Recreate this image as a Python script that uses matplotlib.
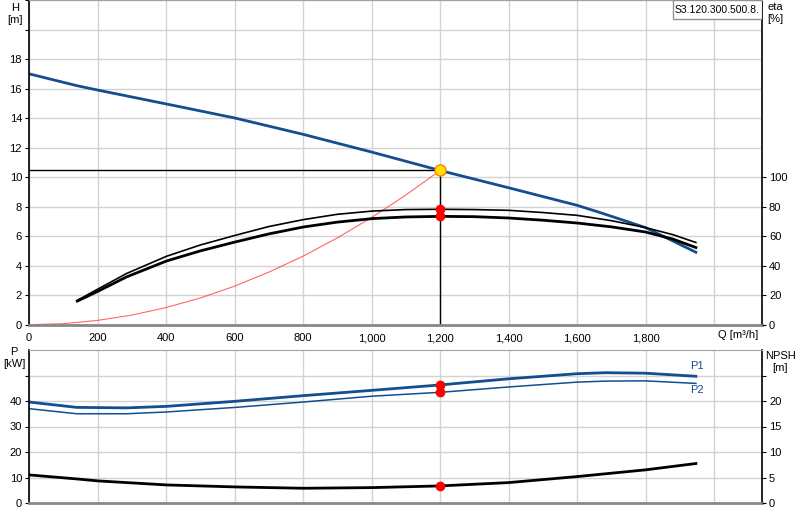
import matplotlib
matplotlib.use('Agg')
import matplotlib.pyplot as plt
import matplotlib.patches as patches
import numpy as np

plt.rcParams['font.family'] = ['Liberation Sans', 'DejaVu Sans']
plt.rcParams['font.size'] = 8

# pump head curve H [m] over Q [m3/h]
qH = [0, 139, 200, 400, 600, 800, 1000, 1200, 1400, 1600, 1667, 1800, 1947]
hH = [17.0, 16.2, 15.9, 14.96, 14.01, 12.9, 11.7, 10.45, 9.28, 8.09, 7.6, 6.58, 4.91]

# efficiency curves eta [%]
qEta = [141, 200, 285, 402, 500, 603, 700, 801, 900, 1003, 1100, 1200, 1300, 1400,
        1500, 1600, 1700, 1800, 1880, 1947]
eta1 = [16.5, 24.0, 34.7, 46.4, 54.0, 60.6, 66.5, 71.2, 74.8, 77.0, 78.0, 78.2, 78.0, 77.5,
        76.0, 74.1, 70.5, 65.8, 61.0, 55.7]
eta2 = [16.0, 22.5, 32.4, 43.2, 50.0, 56.1, 61.5, 66.2, 69.5, 71.9, 73.0, 73.4, 73.2, 72.3,
        70.8, 68.9, 66.3, 62.8, 58.0, 52.3]

# system curve
qSys = [0, 100, 200, 300, 400, 500, 600, 700, 800, 900, 1000, 1100, 1200]
hSys = [0, 0.07, 0.29, 0.65, 1.16, 1.81, 2.61, 3.56, 4.64, 5.88, 7.26, 8.78, 10.45]

# power P1, P2 [kW]
qP = [0, 139, 285, 402, 603, 801, 1003, 1200, 1400, 1600, 1683, 1800, 1947]
p1 = [39.6, 37.5, 37.3, 37.9, 39.9, 42.1, 44.2, 46.3, 48.7, 50.7, 51.1, 50.9, 49.7]
p2 = [37.0, 35.0, 35.0, 35.7, 37.5, 39.6, 41.9, 43.4, 45.5, 47.4, 47.8, 47.9, 46.9]

# NPSH [m]
qN = [0, 139, 202, 402, 603, 801, 1003, 1200, 1400, 1600, 1800, 1947]
npsh = [5.51, 4.72, 4.33, 3.54, 3.15, 2.89, 3.02, 3.35, 4.0, 5.18, 6.5, 7.74]

qDuty = 1200
hDuty = 10.45
eta1Duty = 78.2
eta2Duty = 73.4
p1Duty = 46.3
p2Duty = 43.4
npshDuty = 3.35

qLabels = ['0', '200', '400', '600', '800', '1,000', '1,200', '1,400', '1,600', '1,800']

blue = '#144e8c'
gridc = '#d3d3d3'

W, Hpx = 800., 520.
fig = plt.figure(figsize=(8, 5.2), dpi=100)

def styleAx(ax):
    ax.set_xlim(0, 2140)
    ax.set_xticks(np.arange(0, 2001, 200))
    ax.grid(True, color=gridc, lw=1.0)
    ax.set_axisbelow(True)
    ax.spines['left'].set_color('black')
    ax.spines['left'].set_linewidth(1.2)
    ax.spines['right'].set_color('black')
    ax.spines['right'].set_linewidth(1.2)
    ax.spines['top'].set_color('#a0a0a0')
    ax.spines['bottom'].set_color('#888888')
    ax.spines['bottom'].set_linewidth(2)
    ax.tick_params(axis='y', length=3, pad=2, direction='out')
    ax.tick_params(axis='x', length=0, pad=6)

# ---- top panel: H and eta
ax1 = fig.add_axes([29/W, 1-324.7/Hpx, 733/W, 324.7/Hpx])
styleAx(ax1)
ax1.set_ylim(0, 22)
ax1.set_yticks(np.arange(0, 23, 2))
ax1.set_yticklabels([str(v) if v <= 18 else '' for v in range(0, 23, 2)])
ax1.set_xticklabels(qLabels + [''])

ax1.plot(qSys, hSys, color='#ff4040', lw=0.8, alpha=0.8)
ax1.plot([0, qDuty], [hDuty, hDuty], color='black', lw=1)
ax1.plot([qDuty, qDuty], [0, hDuty], color='black', lw=1)
ax1.plot(qH, hH, color=blue, lw=2)

ax1r = ax1.twinx()
ax1r.set_ylim(0, 220)
ax1r.set_yticks(np.arange(0, 101, 20))
ax1r.tick_params(axis='y', length=3, pad=2)
for s in ax1r.spines.values():
    s.set_visible(False)
ax1r.plot(qEta, eta1, color='black', lw=1.2)
ax1r.plot(qEta, eta2, color='black', lw=2)
ax1r.plot([qDuty, qDuty], [eta1Duty, eta2Duty], 'o', color='red', ms=6, mec='red')
ax1r.plot([qDuty], [hDuty*10], 'o', color='#ffe000', ms=8, mec='#ff8000', mew=1)

# curve name box, clipped at the right axis like in the original
box = patches.Rectangle((672.7/W, 1-19.3/Hpx), (762-672.7)/W, 19.3/Hpx,
                        transform=fig.transFigure, fc='white', ec='#909090', lw=1, zorder=5)
ax1r.add_patch(box)
ax1r.text(674.5/W, 1-10/Hpx, 'S3.120.300.500.8.', transform=fig.transFigure,
          ha='left', va='center', fontsize=7.5, zorder=6, clip_on=True)

fig.text(15/W, 1-14/Hpx, 'H\n[m]', ha='center', va='center', fontsize=8, linespacing=1.3)
fig.text(767/W, 1-13/Hpx, 'eta\n[%]', ha='left', va='center', fontsize=8, linespacing=1.3)
fig.text(758/W, 1-335/Hpx, 'Q [m³/h]', ha='right', va='center', fontsize=8)

# ---- bottom panel: P and NPSH
ax2 = fig.add_axes([29/W, 1-503/Hpx, 733/W, 153/Hpx])
styleAx(ax2)
ax2.set_ylim(0, 60)
ax2.set_yticks(np.arange(0, 51, 10))
ax2.set_yticklabels(['0', '10', '20', '30', '40', ''])
ax2.set_xticklabels([])
ax2.plot(qP, p1, color=blue, lw=2)
ax2.plot(qP, p2, color=blue, lw=1.1)
ax2.plot([qDuty, qDuty], [p1Duty, p2Duty], 'o', color='red', ms=6, mec='red')
ax2.text(1930, 52.5, 'P1', color=blue, fontsize=8)
ax2.text(1930, 43.3, 'P2', color=blue, fontsize=8)

ax2r = ax2.twinx()
ax2r.set_ylim(0, 30)
ax2r.set_yticks(np.arange(0, 26, 5))
ax2r.set_yticklabels(['0', '5', '10', '15', '20', ''])
ax2r.tick_params(axis='y', length=3, pad=2)
for s in ax2r.spines.values():
    s.set_visible(False)
ax2r.plot(qN, npsh, color='black', lw=2)
ax2r.plot([qDuty], [npshDuty], 'o', color='red', ms=6, mec='red')

fig.text(14/W, 1-358/Hpx, 'P\n[kW]', ha='center', va='center', fontsize=8, linespacing=1.3)
fig.text(780/W, 1-362/Hpx, 'NPSH\n[m]', ha='center', va='center', fontsize=8, linespacing=1.3)

fig.savefig('out.png', dpi=100)
